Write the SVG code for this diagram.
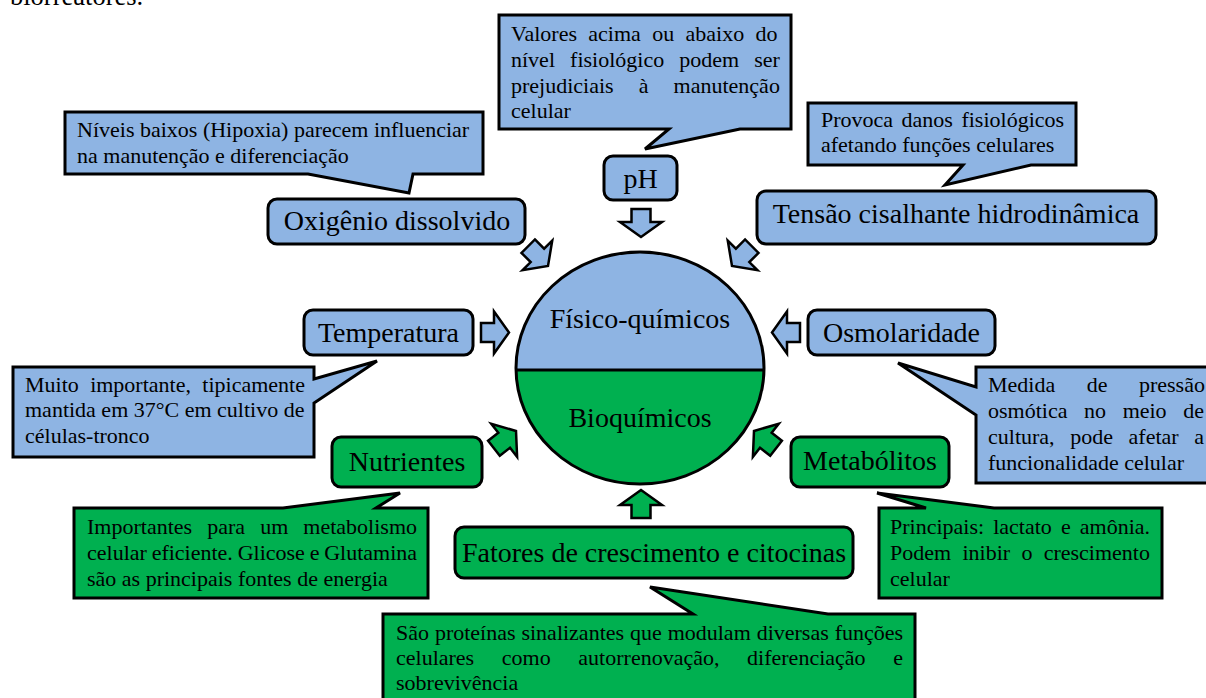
<svg xmlns="http://www.w3.org/2000/svg" xmlns:xlink="http://www.w3.org/1999/xlink" width="1206" height="698" viewBox="0 0 1206 698">
<style>
text{font-family:"Liberation Serif","Times New Roman",serif;fill:#000}
.lbl{font-size:28px;text-anchor:middle}
.note{font-size:22px}
.blue{fill:#8EB4E3}
.green{fill:#00B050}
.box{stroke:#000;stroke-width:3;stroke-linejoin:round}
.call{stroke:#000;stroke-width:3;stroke-linejoin:miter}
.arrow{stroke:#000;stroke-width:2.5;stroke-linejoin:miter}
</style>
<defs>
<polygon id="arr" points="-28,-9.5 -15,-9.5 -15,-21 0,0 -15,21 -15,9.5 -28,9.5"/>
</defs>
<rect width="1206" height="698" fill="#fff"/>
<text x="10" y="5" style="font-size:26.5px">biorreatores.</text>

<g id="connectors">
<use xlink:href="#arr" href="#arr" class="arrow blue" transform="translate(641,237) rotate(90)"/>
<use xlink:href="#arr" href="#arr" class="arrow blue" transform="translate(509,332.5)"/>
<use xlink:href="#arr" href="#arr" class="arrow blue" transform="translate(772,332.5) rotate(180)"/>
<use xlink:href="#arr" href="#arr" class="arrow blue" transform="translate(548,266) rotate(45)"/>
<use xlink:href="#arr" href="#arr" class="arrow blue" transform="translate(732,266) rotate(135)"/>
<use xlink:href="#arr" href="#arr" class="arrow green" transform="translate(516,431) rotate(-38)"/>
<use xlink:href="#arr" href="#arr" class="arrow green" transform="translate(754,431) rotate(-142)"/>
<use xlink:href="#arr" href="#arr" class="arrow green" transform="translate(641,490) rotate(-90)"/>
</g>

<g id="center">
<path class="blue" d="M516.02,370 A124,116 0 1 1 763.98,370 Z"/>
<path class="green" d="M516.02,370 A124,116 0 0 0 763.98,370 Z"/>
<ellipse cx="640" cy="368" rx="124" ry="116" fill="none" stroke="#000" stroke-width="3"/>
<line x1="516" y1="370" x2="764" y2="370" stroke="#000" stroke-width="3"/>
<text class="lbl" x="640" y="328">Físico-químicos</text>
<text class="lbl" x="640" y="427">Bioquímicos</text>
</g>

<g id="oxigenio">
<rect class="box blue" x="268" y="199" width="257" height="45" rx="9"/>
<text class="lbl" x="397" y="230">Oxigênio dissolvido</text>
</g>
<g id="oxigenio-note">
<path class="call blue" d="M65,112 H483 V174 H413 L409,193 L308,174 H65 Z"/>
<text class="note" x="77" y="137">Níveis baixos (Hipoxia) parecem influenciar</text>
<text class="note" x="77" y="163">na manutenção e diferenciação</text>
</g>

<g id="ph">
<rect class="box blue" x="604" y="156" width="73" height="44" rx="9"/>
<text class="lbl" x="640.5" y="188">pH</text>
</g>
<g id="ph-note">
<path class="call blue" d="M499,15 H791 V129 H740 L645,149 L669,129 H499 Z"/>
<text class="note" x="511" y="41" word-spacing="5.85">Valores acima ou abaixo do</text>
<text class="note" x="511" y="67" word-spacing="9.6">nível fisiológico podem ser</text>
<text class="note" x="511" y="93" word-spacing="19.6">prejudiciais à manutenção</text>
<text class="note" x="511" y="118">celular</text>
</g>

<g id="tensao">
<rect class="box blue" x="757" y="191" width="399" height="53" rx="9"/>
<text class="lbl" x="956" y="223">Tensão cisalhante hidrodinâmica</text>
</g>
<g id="tensao-note">
<path class="call blue" d="M808,103 H1076 V165 H1031 L945,185 L963,165 H808 Z"/>
<text class="note" x="821" y="127" word-spacing="3">Provoca danos fisiológicos</text>
<text class="note" x="821" y="152">afetando funções celulares</text>
</g>

<g id="temperatura">
<rect class="box blue" x="304" y="310" width="169" height="45" rx="9"/>
<text class="lbl" x="388.5" y="342">Temperatura</text>
</g>
<g id="temperatura-note">
<path class="call blue" d="M13,367 H314 V379 L377,361 L314,403 V457 H13 Z"/>
<text class="note" x="25" y="392" word-spacing="5.85">Muito importante, tipicamente</text>
<text class="note" x="25" y="417">mantida em 37°C em cultivo de</text>
<text class="note" x="25" y="443">células-tronco</text>
</g>

<g id="osmolaridade">
<rect class="box blue" x="808" y="310" width="187" height="45" rx="9"/>
<text class="lbl" x="901.5" y="342">Osmolaridade</text>
</g>
<g id="osmolaridade-note">
<path class="call blue" d="M976,367 H1220 V483 H976 V415 L898,363 L976,387 Z"/>
<text class="note" x="988" y="392" word-spacing="26">Medida de pressão</text>
<text class="note" x="988" y="418" word-spacing="11.1">osmótica no meio de</text>
<text class="note" x="988" y="444" word-spacing="10.1">cultura, pode afetar a</text>
<text class="note" x="988" y="470">funcionalidade celular</text>
</g>

<g id="nutrientes">
<rect class="box green" x="332" y="437" width="150" height="50" rx="9"/>
<text class="lbl" x="407" y="471">Nutrientes</text>
</g>
<g id="nutrientes-note">
<path class="call green" d="M74,508 H283 L400,493 L376,508 H428 V598 H74 Z"/>
<text class="note" x="87" y="534" word-spacing="9.6">Importantes para um metabolismo</text>
<text class="note" x="87" y="560" word-spacing="-0.7">celular eficiente. Glicose e Glutamina</text>
<text class="note" x="87" y="586">são as principais fontes de energia</text>
</g>

<g id="metabolitos">
<rect class="box green" x="791" y="437" width="158" height="50" rx="9"/>
<text class="lbl" x="870" y="470">Metabólitos</text>
</g>
<g id="metabolitos-note">
<path class="call green" d="M879,508 H926 L877,493 L994,508 H1162 V598 H879 Z"/>
<text class="note" x="890" y="534" word-spacing="3.6">Principais: lactato e amônia.</text>
<text class="note" x="890" y="560" word-spacing="5.8">Podem inibir o crescimento</text>
<text class="note" x="890" y="586">celular</text>
</g>

<g id="fatores">
<rect class="box green" x="455" y="527" width="398" height="51" rx="9"/>
<text class="lbl" x="654" y="562">Fatores de crescimento e citocinas</text>
</g>
<g id="fatores-note">
<path class="call green" d="M383,614 H693 L650,587 L828,614 H915 V705 H383 Z"/>
<text class="note" x="396" y="640" word-spacing="0.4">São proteínas sinalizantes que modulam diversas funções</text>
<text class="note" x="396" y="665" word-spacing="22.15">celulares como autorrenovação, diferenciação e</text>
<text class="note" x="396" y="690">sobrevivência</text>
</g>
</svg>
